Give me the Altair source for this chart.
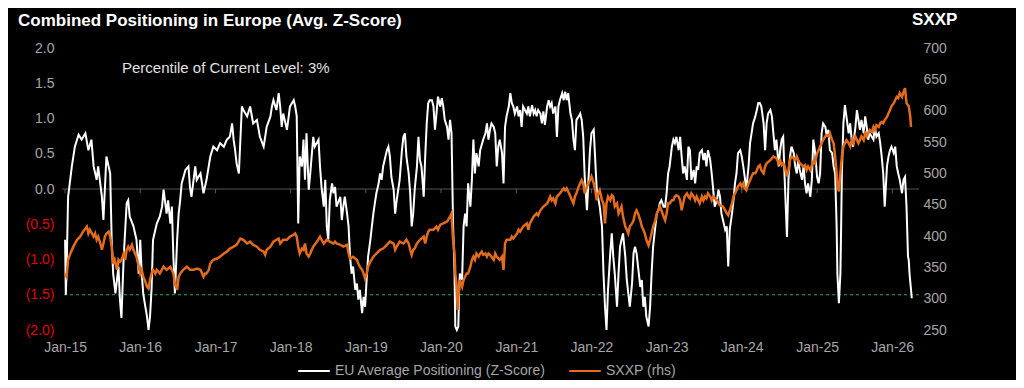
import altair as alt
import pandas as pd

# ---------------- data ----------------
# decimal years and average Z-score of combined positioning
z_years = [
    2015.00, 2015.01, 2015.02, 2015.04, 2015.09, 2015.13, 2015.18, 2015.22, 2015.27, 2015.31,
    2015.35, 2015.38, 2015.42, 2015.44, 2015.49, 2015.51, 2015.55, 2015.60, 2015.62, 2015.64,
    2015.67, 2015.71, 2015.73, 2015.75, 2015.78, 2015.82, 2015.84, 2015.86, 2015.91, 2015.95,
    2015.98, 2016.00, 2016.02, 2016.04, 2016.06, 2016.09, 2016.11, 2016.13, 2016.15, 2016.17,
    2016.22, 2016.26, 2016.29, 2016.31, 2016.35, 2016.37, 2016.40, 2016.42, 2016.44, 2016.46,
    2016.49, 2016.51, 2016.53, 2016.55, 2016.60, 2016.64, 2016.66, 2016.68, 2016.73, 2016.75,
    2016.80, 2016.84, 2016.88, 2016.93, 2016.97, 2017.02, 2017.06, 2017.11, 2017.15, 2017.19,
    2017.22, 2017.24, 2017.26, 2017.28, 2017.31,
    2017.35, 2017.37, 2017.42, 2017.46, 2017.50, 2017.55, 2017.59, 2017.64, 2017.68, 2017.73,
    2017.75, 2017.77, 2017.81, 2017.84, 2017.86, 2017.88, 2017.90, 2017.95, 2017.99, 2018.04,
    2018.06, 2018.08, 2018.10, 2018.12, 2018.15, 2018.17, 2018.19, 2018.21, 2018.24, 2018.26,
    2018.30, 2018.32, 2018.37, 2018.39, 2018.41, 2018.44, 2018.46, 2018.48, 2018.50, 2018.52,
    2018.55, 2018.57, 2018.59, 2018.61, 2018.66, 2018.68, 2018.70, 2018.72, 2018.75, 2018.77,
    2018.79, 2018.81, 2018.83, 2018.86, 2018.88, 2018.90, 2018.92, 2018.95, 2018.97, 2018.99,
    2019.01, 2019.03, 2019.06, 2019.08, 2019.10, 2019.12, 2019.14, 2019.17, 2019.19, 2019.21,
    2019.23, 2019.28, 2019.30, 2019.32, 2019.34, 2019.37, 2019.39, 2019.41, 2019.45, 2019.48,
    2019.50, 2019.52, 2019.54, 2019.57, 2019.59, 2019.61, 2019.63, 2019.65, 2019.68, 2019.70,
    2019.72, 2019.74, 2019.77, 2019.79, 2019.81, 2019.83, 2019.85,
    2019.88, 2019.90, 2019.92, 2019.94, 2019.96, 2019.99, 2020.01, 2020.03, 2020.05, 2020.08,
    2020.10, 2020.12, 2020.14, 2020.16, 2020.18, 2020.19, 2020.21, 2020.23, 2020.24, 2020.25,
    2020.28, 2020.30, 2020.32, 2020.34, 2020.36, 2020.39, 2020.41, 2020.43, 2020.45, 2020.47,
    2020.50, 2020.52, 2020.56, 2020.59, 2020.61, 2020.63, 2020.65, 2020.67, 2020.70, 2020.72,
    2020.74, 2020.76, 2020.78, 2020.81, 2020.83, 2020.85, 2020.87, 2020.90, 2020.92, 2020.94,
    2020.96, 2020.98, 2021.01, 2021.03, 2021.05, 2021.07, 2021.09, 2021.14, 2021.16, 2021.18,
    2021.21, 2021.23, 2021.25, 2021.27, 2021.29, 2021.32, 2021.34, 2021.36, 2021.38, 2021.41,
    2021.43, 2021.45, 2021.47, 2021.49, 2021.52, 2021.54, 2021.56, 2021.58, 2021.61, 2021.63,
    2021.65, 2021.67, 2021.69, 2021.72, 2021.74, 2021.76, 2021.78, 2021.80, 2021.83, 2021.85,
    2021.87, 2021.89, 2021.91, 2021.94, 2021.96, 2021.98, 2022.00, 2022.03, 2022.05, 2022.07,
    2022.11, 2022.14, 2022.16, 2022.18, 2022.20, 2022.22, 2022.25, 2022.27, 2022.29, 2022.31,
    2022.34, 2022.36, 2022.38, 2022.40, 2022.42, 2022.45, 2022.47, 2022.49, 2022.51, 2022.54,
    2022.56, 2022.58, 2022.60, 2022.62, 2022.65, 2022.67, 2022.69, 2022.71, 2022.73, 2022.76,
    2022.78, 2022.80, 2022.82, 2022.85, 2022.87, 2022.89, 2022.91, 2022.93, 2022.96, 2022.98,
    2023.00, 2023.02, 2023.04, 2023.07, 2023.09, 2023.11, 2023.13, 2023.16, 2023.18, 2023.20,
    2023.22, 2023.24, 2023.27, 2023.29, 2023.31, 2023.33, 2023.36, 2023.38, 2023.40, 2023.42,
    2023.44, 2023.47, 2023.49, 2023.51, 2023.53, 2023.55, 2023.58, 2023.60, 2023.62, 2023.64,
    2023.67, 2023.69, 2023.71, 2023.73, 2023.75, 2023.78, 2023.80, 2023.82, 2023.84, 2023.87,
    2023.89, 2023.91, 2023.93, 2023.95, 2023.98, 2024.00, 2024.02, 2024.04, 2024.06, 2024.09,
    2024.11, 2024.13, 2024.15, 2024.18, 2024.20, 2024.22,
    2024.24, 2024.26, 2024.29, 2024.31, 2024.33, 2024.35, 2024.38, 2024.40, 2024.42, 2024.44,
    2024.46, 2024.49, 2024.51, 2024.53, 2024.55, 2024.57, 2024.60, 2024.62, 2024.64, 2024.66,
    2024.69, 2024.71, 2024.73, 2024.75, 2024.77, 2024.80, 2024.82, 2024.84, 2024.86, 2024.88,
    2024.91, 2024.93, 2024.95, 2024.97, 2025.00, 2025.02, 2025.04, 2025.06, 2025.08, 2025.11,
    2025.13, 2025.15, 2025.17, 2025.20, 2025.22, 2025.24, 2025.26, 2025.27, 2025.29, 2025.31,
    2025.32, 2025.33, 2025.35, 2025.37, 2025.39, 2025.42, 2025.44, 2025.46, 2025.48, 2025.51,
    2025.53, 2025.55, 2025.57, 2025.59, 2025.62, 2025.64, 2025.66, 2025.68, 2025.70, 2025.75,
    2025.77, 2025.79, 2025.82, 2025.84, 2025.86, 2025.88, 2025.90, 2025.93, 2025.95, 2025.97,
    2025.99, 2026.02, 2026.04, 2026.06, 2026.08, 2026.10, 2026.13, 2026.15, 2026.17, 2026.19,
    2026.21, 2026.22, 2026.23, 2026.25, 2026.26,
]
z_values = [
    -0.72, -1.50, -1.15, -0.11, 0.32, 0.60, 0.77, 0.70, 0.79, 0.55,
    0.70, 0.32, 0.13, 0.32, -0.11, -0.44, 0.46, 0.22, -0.72, -1.20,
    -1.48, -1.10, -1.57, -1.83, -0.96, -0.20, -0.16, -0.39, -0.53, -0.72,
    -1.20, -0.72, -1.20, -1.48, -1.62, -1.81, -2.00, -1.81, -1.43, -0.72,
    -0.49, -0.39, -0.25, -0.01, -0.35, -0.16, -0.49, -0.25, -0.96, -1.48,
    -0.72, -0.35, -0.16, 0.08, 0.27, 0.32, 0.03, -0.11, 0.32, 0.13,
    0.22, -0.06, 0.13, 0.46, 0.60, 0.55, 0.65, 0.60, 0.70, 0.74,
    0.93, 0.70, 0.55, 0.36, 0.22,
    1.17, 1.12, 1.03, 1.17, 0.93, 0.98, 0.74, 0.60, 0.88, 1.03,
    1.17, 1.26, 1.12, 1.36, 1.17, 0.88, 1.07, 0.84, 1.17, 1.26,
    1.17, 1.03, -0.49, 0.46, 0.32, 0.70, 0.13, 0.79, -0.01, 0.22,
    0.74, 0.60, 0.70, 0.32, 0.03, -0.25, 0.13, -0.53, -0.72, -0.16,
    0.08, -0.06, 0.03, -0.25, -0.11, -0.44, -0.25, -0.11, -0.35, -0.53,
    -0.96, -1.20, -1.10, -1.43, -1.34, -1.57, -1.43, -1.76, -1.53, -1.67,
    -1.29, -0.96, -0.72, -0.53, -0.35, -0.20, -0.06, 0.08, 0.22, 0.13,
    0.32, 0.55, 0.60, 0.46, 0.17, -0.01, -0.35, -0.16, 0.13, 0.55,
    0.74, 0.79, 0.46, 0.22, -0.06, -0.53, -0.35, -0.01, 0.32, 0.74,
    0.41, 0.32, -0.11, 0.46, 0.93, 1.22, 1.26,
    1.26, 1.17, 0.84, 1.07, 1.31, 1.17, 1.29, 1.17, 0.98, 0.88,
    0.70, 0.98, 0.79, -0.49, -1.20, -1.95, -2.00, -1.95, -1.48, -1.20,
    -1.29, -0.53, -0.35, -0.53, 0.08, -0.25, 0.13, 0.70, 0.22, 0.51,
    0.32, 0.55, 0.70, 0.79, 0.93, 0.70, 0.84, 0.93, 0.88, 0.79,
    0.32, 0.60, 0.70, 0.51, 0.08, 0.88, 1.03, 1.17, 1.36, 1.22,
    1.17, 1.07, 1.17, 1.03, 1.12, 0.88, 1.17, 1.07, 1.17, 1.03,
    1.19, 1.07, 1.12, 1.03, 1.12, 1.07, 0.93, 1.10, 0.91, 1.17,
    1.26, 1.17, 1.22, 1.07, 1.17, 0.74, 1.17, 1.26, 1.36, 1.26,
    1.38, 1.26, 1.36, 1.07, 0.98, 0.70, 0.55, 0.98, 1.03, 1.07,
    0.98, 0.74, 0.17, -0.30, 0.13, 0.55, 0.79, 0.84, 0.41, -0.01,
    -0.25, -0.53, -1.20, -1.67, -2.00, -1.43, -0.91, -0.63, -0.96, -1.20,
    -1.67, -1.20, -0.82, -0.72, -0.63, -0.96, -1.29, -1.48, -1.67, -1.34,
    -0.91, -0.82, -0.91, -1.10, -1.39, -1.29, -1.67, -1.53, -1.81, -1.95,
    -1.67, -1.20, -0.82, -0.53, -0.35, -0.30, -0.20, -0.16, -0.25, -0.25,
    -0.06, 0.22, 0.32, 0.60, 0.70, 0.65, 0.74, 0.55, 0.74, 0.46,
    0.22, 0.32, 0.13, 0.60, 0.55, 0.13, 0.27, 0.08, 0.32, 0.27,
    0.51, 0.55, 0.41, 0.51, 0.32, 0.55, 0.41, 0.22, -0.01, -0.25,
    -0.16, -0.01, -0.11, -0.35, -0.44, -0.58, -0.53, -1.10, -0.58, -0.35,
    -0.16, 0.08, 0.22, 0.51, 0.55, 0.46, 0.32, 0.17, -0.01, 0.32,
    0.65, 0.79, 0.93, 1.03, 1.12, 1.22,
    1.22, 1.17, 0.93, 0.55, 0.93, 1.07, 1.12, 1.03, 0.79, 0.55,
    0.70, 0.32, 0.55, 0.70, 0.74, 0.13, -0.68, 0.13, 0.46, 0.60,
    0.51, 0.32, 0.22, 0.41, 0.27, 0.13, 0.32, 0.08, -0.06, 0.08,
    -0.11, 0.13, 0.70, 0.55, 0.17, 0.08, 0.22, 0.79, 0.93, 0.88,
    0.74, 0.84, 0.55, 0.51, 0.32, 0.22, -0.53, -1.20, -1.62, -1.20,
    -0.53, 0.22, 0.93, 1.19, 1.03, 0.79, 0.93, 0.70, 0.60, 0.88,
    1.12, 0.98, 0.84, 0.98, 0.79, 1.03, 0.88, 0.70, 0.79, 0.70,
    0.88, 0.74, 0.79, 0.65, 0.46, 0.22, -0.25, 0.32, 0.46, 0.55,
    0.60, 0.51, 0.60, 0.32, 0.22, 0.13, -0.06, 0.13, 0.17, -0.25,
    -0.96, -1.01, -1.20, -1.43, -1.55,
]

# decimal years and SXXP index level
sx_years = [
    2015.00, 2015.02, 2015.04, 2015.07, 2015.11, 2015.16, 2015.20, 2015.24, 2015.29, 2015.31,
    2015.33, 2015.38, 2015.40, 2015.42, 2015.44, 2015.47, 2015.49, 2015.51, 2015.53, 2015.55,
    2015.58, 2015.60, 2015.62, 2015.64, 2015.66, 2015.69, 2015.71, 2015.73, 2015.75, 2015.78,
    2015.80, 2015.82, 2015.84, 2015.86, 2015.89, 2015.91, 2015.93, 2015.95, 2015.98, 2016.00,
    2016.02, 2016.04, 2016.06, 2016.09, 2016.11, 2016.13, 2016.15, 2016.17, 2016.20, 2016.22,
    2016.26, 2016.31, 2016.35, 2016.40, 2016.44, 2016.46, 2016.49, 2016.51, 2016.53, 2016.57,
    2016.62, 2016.66, 2016.71, 2016.75, 2016.80, 2016.84, 2016.86, 2016.88, 2016.91, 2016.93,
    2016.97, 2017.02, 2017.06, 2017.11, 2017.15, 2017.19, 2017.24, 2017.28,
    2017.33, 2017.37, 2017.42, 2017.46, 2017.50, 2017.55, 2017.59, 2017.64, 2017.66, 2017.68,
    2017.73, 2017.77, 2017.81, 2017.84, 2017.86, 2017.90, 2017.95, 2017.99, 2018.04, 2018.06,
    2018.08, 2018.10, 2018.12, 2018.15, 2018.17, 2018.19, 2018.21, 2018.24, 2018.26, 2018.28,
    2018.30, 2018.35, 2018.39, 2018.41, 2018.44, 2018.46, 2018.48, 2018.52, 2018.57, 2018.59,
    2018.61, 2018.66, 2018.70, 2018.75, 2018.77, 2018.79, 2018.83, 2018.88, 2018.90, 2018.92,
    2018.95, 2018.97, 2018.99, 2019.01, 2019.03, 2019.06, 2019.10, 2019.14, 2019.19, 2019.23,
    2019.28, 2019.32, 2019.37, 2019.39, 2019.41, 2019.45, 2019.50, 2019.54, 2019.57, 2019.59,
    2019.61, 2019.63, 2019.65, 2019.68, 2019.72, 2019.77, 2019.79, 2019.81, 2019.83, 2019.85,
    2019.90, 2019.94, 2019.96, 2019.99, 2020.03, 2020.08, 2020.12, 2020.14, 2020.16, 2020.18,
    2020.19, 2020.21, 2020.22, 2020.24, 2020.25, 2020.28, 2020.30, 2020.32, 2020.34, 2020.36,
    2020.39, 2020.41, 2020.43, 2020.45, 2020.47, 2020.50, 2020.52, 2020.54, 2020.56, 2020.59,
    2020.61, 2020.63, 2020.65, 2020.70, 2020.72, 2020.74, 2020.78, 2020.81, 2020.83, 2020.85,
    2020.87, 2020.92, 2020.94, 2020.96, 2021.01, 2021.03, 2021.05, 2021.09, 2021.14, 2021.16,
    2021.18, 2021.23, 2021.27, 2021.29, 2021.32, 2021.36, 2021.41, 2021.43, 2021.45, 2021.47,
    2021.49, 2021.52, 2021.54, 2021.58, 2021.61, 2021.63, 2021.65, 2021.67, 2021.69, 2021.72,
    2021.74, 2021.76, 2021.78, 2021.80, 2021.83, 2021.85, 2021.87, 2021.89, 2021.91, 2021.94,
    2021.96, 2021.98, 2022.00, 2022.03, 2022.05, 2022.07, 2022.09,
    2022.11, 2022.14, 2022.16, 2022.18, 2022.20, 2022.22, 2022.25, 2022.27, 2022.29, 2022.31,
    2022.34, 2022.36, 2022.38, 2022.40, 2022.42, 2022.45, 2022.47, 2022.49, 2022.51, 2022.54,
    2022.56, 2022.58, 2022.60, 2022.62, 2022.65, 2022.67, 2022.69, 2022.71, 2022.73, 2022.76,
    2022.78, 2022.80, 2022.82, 2022.85, 2022.87, 2022.89, 2022.91, 2022.93, 2022.96, 2022.98,
    2023.00, 2023.02, 2023.04, 2023.07, 2023.09, 2023.11, 2023.13, 2023.16, 2023.18, 2023.20,
    2023.22, 2023.24, 2023.27, 2023.29, 2023.31, 2023.33, 2023.36, 2023.38, 2023.40, 2023.42,
    2023.44, 2023.47, 2023.49, 2023.51, 2023.53, 2023.55, 2023.58, 2023.60, 2023.62, 2023.67,
    2023.69, 2023.71, 2023.75, 2023.78, 2023.80, 2023.82, 2023.84, 2023.87, 2023.89, 2023.91,
    2023.93, 2023.95, 2023.98, 2024.00, 2024.02, 2024.04, 2024.06, 2024.09, 2024.11, 2024.13,
    2024.15, 2024.18, 2024.20, 2024.22,
    2024.24, 2024.26, 2024.29, 2024.31, 2024.33, 2024.38, 2024.42, 2024.46, 2024.49, 2024.51,
    2024.53, 2024.55, 2024.57, 2024.60, 2024.62, 2024.64, 2024.66, 2024.69, 2024.71, 2024.73,
    2024.75, 2024.77, 2024.80, 2024.82, 2024.84, 2024.86, 2024.88, 2024.91, 2024.93, 2024.95,
    2024.97, 2025.00, 2025.02, 2025.04, 2025.06, 2025.08, 2025.11, 2025.13, 2025.15, 2025.17,
    2025.20, 2025.22, 2025.24, 2025.26, 2025.27, 2025.29, 2025.31, 2025.33, 2025.35, 2025.37,
    2025.39, 2025.42, 2025.44, 2025.46, 2025.48, 2025.51, 2025.53, 2025.55, 2025.57, 2025.59,
    2025.62, 2025.64, 2025.66, 2025.68, 2025.70, 2025.73, 2025.75, 2025.77, 2025.79, 2025.82,
    2025.84, 2025.86, 2025.88, 2025.90, 2025.93, 2025.95, 2025.97, 2025.99, 2026.02, 2026.04,
    2026.06, 2026.08, 2026.10, 2026.13, 2026.15, 2026.17, 2026.19, 2026.22, 2026.24, 2026.25,
]
sx_values = [
    340, 335, 362, 372, 383, 394, 399, 407, 415, 404,
    410, 399, 404, 394, 399, 388, 378, 388, 399, 404,
    407, 399, 383, 356, 362, 346, 362, 359, 362, 372,
    362, 378, 383, 378, 386, 378, 372, 367, 351, 340,
    346, 335, 330, 319, 316, 330, 340, 346, 340, 346,
    340, 351, 346, 351, 340, 324, 314, 335, 340, 346,
    351, 346, 346, 348, 346, 335, 340, 340, 346, 356,
    362, 364, 367, 372, 375, 380, 383, 386,
    396, 394, 388, 391, 386, 383, 378, 375, 370, 378,
    383, 391, 394, 396, 388, 394, 394, 399, 402, 404,
    399, 383, 372, 380, 378, 388, 372, 367, 372, 378,
    383, 391, 399, 394, 388, 391, 394, 391, 388, 391,
    388, 386, 383, 386, 372, 364, 367, 362, 356, 351,
    346, 340, 332, 340, 351, 359, 367, 372, 378, 380,
    386, 391, 388, 378, 383, 391, 388, 394, 388, 378,
    370, 378, 380, 388, 394, 399, 388, 399, 407, 410,
    410, 415, 410, 418, 420, 423, 431, 436, 394, 372,
    340, 319, 282, 319, 330, 319, 330, 335, 340, 340,
    351, 362, 367, 362, 372, 367, 372, 375, 370, 372,
    367, 372, 370, 362, 372, 367, 362, 367, 346, 388,
    394, 394, 399, 396, 404, 410, 407, 415, 420, 410,
    420, 431, 436, 433, 441, 447, 452, 457, 463, 457,
    460, 452, 463, 468, 473, 476, 473, 476, 471, 463,
    457, 452, 463, 468, 479, 484, 489, 484, 468, 479,
    484, 489, 495, 484, 473, 457, 468,
    473, 457, 452, 420, 452, 463, 457, 465, 463, 447,
    452, 436, 441, 447, 431, 415, 410, 404, 415, 420,
    425, 436, 441, 436, 425, 415, 410, 404, 394, 385,
    394, 404, 415, 425, 436, 441, 447, 441, 431, 425,
    436, 452, 452, 457, 457, 463, 465, 463, 457, 441,
    452, 463, 468, 463, 460, 468, 463, 457, 463, 457,
    452, 463, 457, 463, 460, 468, 463, 457, 463, 457,
    452, 449, 447, 441, 436, 433, 441, 452, 463, 468,
    473, 479, 484, 479, 484, 476, 473, 484, 489, 495,
    500, 500, 505, 511,
    513, 505, 500, 511, 516, 521, 527, 524, 516, 521,
    513, 516, 511, 495, 505, 521, 527, 524, 521, 527,
    521, 516, 513, 511, 513, 505, 511, 505, 513, 519,
    516, 532, 537, 543, 548, 553, 559, 561, 559, 564,
    553, 548, 527, 500, 479, 471, 500, 527, 543, 548,
    553, 548, 543, 553, 548, 559, 553, 548, 553, 559,
    553, 564, 559, 564, 569, 566, 574, 569, 577, 574,
    580, 582, 580, 585, 590, 596, 601, 607, 612, 617,
    622, 620, 628, 622, 630, 636, 612, 607, 590, 574,
]

EU_NAME = "EU Average Positioning (Z-Score)"
SX_NAME = "SXXP (rhs)"
tick_years = list(range(2015, 2027))
z_ticks = [-2.0, -1.5, -1.0, -0.5, 0.0, 0.5, 1.0, 1.5, 2.0]
sx_ticks = [250, 300, 350, 400, 450, 500, 550, 600, 650, 700]
threshold_level = -1.5


def to_iso(y):
    yr = int(y)
    start = pd.Timestamp(yr, 1, 1)
    ndays = (pd.Timestamp(yr + 1, 1, 1) - start).days
    return (start + pd.Timedelta(days=(y - yr) * ndays)).strftime("%Y-%m-%dT%H:%M:%S")


zdf = pd.DataFrame({"date": [to_iso(y) for y in z_years], "value": z_values, "series": EU_NAME})
sdf = pd.DataFrame({"date": [to_iso(y) for y in sx_years], "value": sx_values, "series": SX_NAME})
tdf = pd.DataFrame({"date": [f"{y}-01-01T00:00:00" for y in tick_years]})
one = pd.DataFrame({"a": [0]})

# ---------------- styling ----------------
FONT = "Liberation Sans"
GRAY = "#a6a6a6"
RED = "#e00000"
ORANGE = "#e26b1c"

xscale = alt.Scale(domain=[alt.DateTime(year=2014, month=12, date=17),
                           alt.DateTime(year=2026, month=5, date=11)])
xaxis = alt.Axis(values=[alt.DateTime(year=y, month=1, date=1) for y in tick_years],
                 format="%b-%y", labelColor=GRAY, labelFontSize=14, labelFont=FONT,
                 labelPadding=10, domain=False, ticks=False, tickSize=0, grid=False,
                 labelFlush=False, labelOverlap=False, title=None)
X = alt.X("date:T", scale=xscale, axis=xaxis, title=None)

zscale = alt.Scale(domain=[-2, 2], nice=False, zero=False)
zaxis = alt.Axis(values=z_ticks, orient="left",
                 labelExpr="datum.value < 0 ? '(' + format(-datum.value, '.1f') + ')' : format(datum.value, '.1f') + '\u00a0'",
                 labelColor={"condition": {"test": "datum.value < 0", "value": RED}, "value": GRAY},
                 labelFontSize=14, labelFont=FONT, labelPadding=8, domain=False, ticks=False,
                 tickSize=0, grid=False, title=None)

sscale = alt.Scale(domain=[250, 700], nice=False, zero=False)
saxis = alt.Axis(values=sx_ticks, orient="right", labelColor=GRAY, labelFontSize=14,
                 labelFont=FONT, labelPadding=4, domain=False, ticks=False, tickSize=0,
                 grid=False, title=None)

color = alt.Color("series:N",
                  scale=alt.Scale(domain=[EU_NAME, SX_NAME], range=["#ffffff", ORANGE]),
                  legend=alt.Legend(orient="none", legendX=235, legendY=306,
                                    direction="horizontal", symbolType="stroke",
                                    symbolSize=1000, symbolStrokeWidth=2, symbolOpacity=1,
                                    labelFontSize=14, labelColor=GRAY, labelFont=FONT,
                                    labelLimit=400, labelOffset=4, columnPadding=19,
                                    padding=0, title=None))

zero_rule = alt.Chart(one).mark_rule(color="#3a3a3a", strokeWidth=1.5).encode(
    y=alt.YDatum(0, type="quantitative", scale=zscale, axis=zaxis, title=None))
zero_ticks = alt.Chart(tdf).mark_rule(color="#5a5a5a", strokeWidth=1).encode(
    x=X,
    y=alt.YDatum(0, type="quantitative", scale=zscale, axis=zaxis, title=None),
    y2=alt.Y2Datum(-0.06))
green = alt.Chart(one).mark_rule(color="#22b35e", strokeWidth=1, strokeDash=[3, 3]).encode(
    y=alt.YDatum(threshold_level, type="quantitative", scale=zscale, axis=zaxis, title=None))
white_line = alt.Chart(zdf).mark_line(strokeWidth=2).encode(
    x=X, y=alt.Y("value:Q", scale=zscale, axis=zaxis, title=None), color=color)

z_group = alt.layer(zero_rule, zero_ticks, green, white_line)

orange_line = alt.Chart(sdf).mark_line(strokeWidth=2.5).encode(
    x=X, y=alt.Y("value:Q", scale=sscale, axis=saxis, title=None), color=color)

title_txt = alt.Chart(one).mark_text(
    text="Combined Positioning in Europe (Avg. Z-Score)", align="left", baseline="middle",
    font=FONT, fontSize=17, fontWeight="bold", color="#ffffff"
).encode(x=alt.value(-44), y=alt.value(-27))
sxxp_txt = alt.Chart(one).mark_text(
    text="SXXP", align="left", baseline="middle", font=FONT, fontSize=17,
    fontWeight="bold", color="#ffffff"
).encode(x=alt.value(850), y=alt.value(-28))
note_txt = alt.Chart(one).mark_text(
    text="Percentile of Current Level: 3%", align="left", baseline="middle", font=FONT,
    fontSize=15, color="#e0e0e0"
).encode(x=alt.value(60), y=alt.value(20))

chart = alt.layer(z_group, orange_line, title_txt, sxxp_txt, note_txt).resolve_scale(
    y="independent"
).properties(
    width=857, height=282,
    autosize=alt.AutoSizeParams(type="none"),
    padding={"left": 54, "top": 40, "right": 97, "bottom": 50},
).configure(
    background="#000000", font=FONT
).configure_view(stroke=None)

chart.save("out.html", embed_options={"renderer": "svg", "actions": False})
